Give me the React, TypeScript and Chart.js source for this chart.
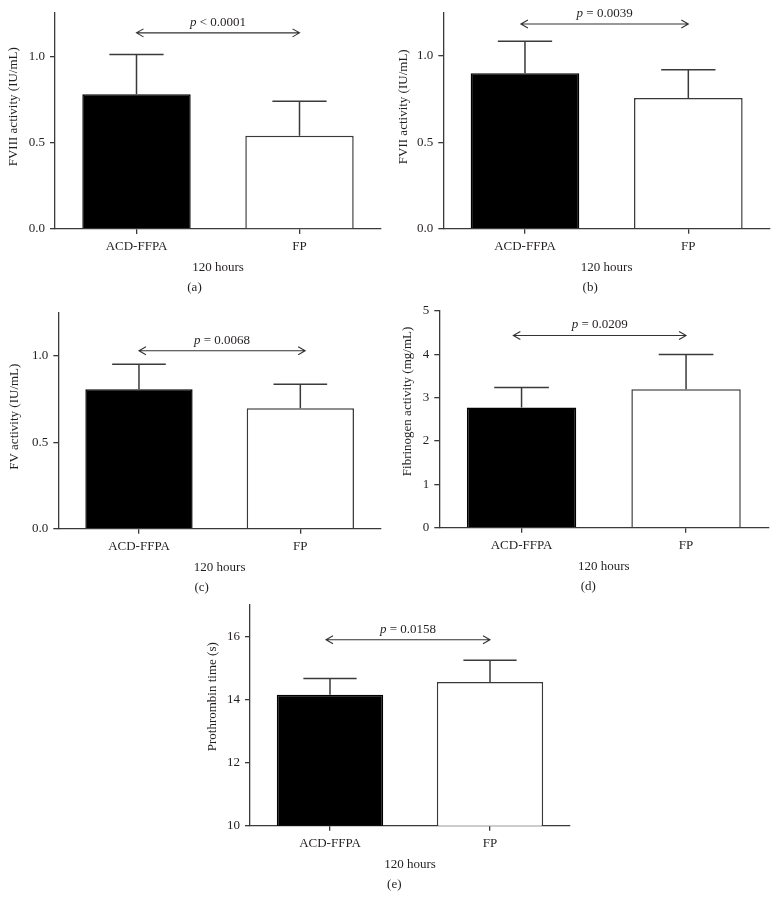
import React, { useEffect, useRef } from "react";
import { Chart, registerables } from "chart.js";

Chart.register(...registerables);

const FONT = "'Liberation Serif', 'Times New Roman', serif";
const TEXT = "#231f20";
const LINE = "#3a3a3a";

// ---- data ----
const categories = ["ACD-FFPA", "FP"];
const xAxisTitle = "120 hours";

const fviiiMean = [0.78, 0.54];
const fviiiErr = [0.23, 0.2];
const fviiMean = [0.9, 0.757];
const fviiErr = [0.186, 0.163];
const fvMean = [0.807, 0.697];
const fvErr = [0.145, 0.139];
const fibMean = [2.77, 3.19];
const fibErr = [0.46, 0.8];
const ptMean = [14.15, 14.56];
const ptErr = [0.52, 0.69];

const yTitles = [
  "FVIII activity (IU/mL)",
  "FVII activity (IU/mL)",
  "FV activity (IU/mL)",
  "Fibrinogen activity (mg/mL)",
  "Prothrombin time (s)",
];
const panelLetters = ["(a)", "(b)", "(c)", "(d)", "(e)"];
const pLabels = ["< 0.0001", "= 0.0039", "= 0.0068", "= 0.0209", "= 0.0158"];
const pBracketY = [1.135, 1.185, 1.03, 4.43, 15.9];
const pBracketFrom = [0, -0.025, 0, -0.05, -0.025];
const pBracketTo = [1, 1, 1.03, 1, 1];
const yMin = [0, 0, 0, 0, 10];
const yMax = [1.25, 1.25, 1.25, 5, 17];
const yStep = [0.5, 0.5, 0.5, 1, 2];
const yDecimals = [1, 1, 1, 0, 0];

const means = [fviiiMean, fviiMean, fvMean, fibMean, ptMean];
const errs = [fviiiErr, fviiErr, fvErr, fibErr, ptErr];

// ---- layout (canvas box, chart-area box relative to canvas, title offsets) ----
type Layout = {
  left: number; top: number; w: number; h: number;
  L: number; T: number; R: number; B: number;
  tdx: number; tdy: number; letterDx: number;
};
const layouts: Layout[] = [
  { left: 0, top: 0, w: 390, h: 298, L: 55, T: 13, R: 381, B: 229, tdx: -41.7, tdy: -14.3, letterDx: -23.5 },
  { left: 390, top: 0, w: 389, h: 298, L: 53.3, T: 11.7, R: 380, B: 228.7, tdx: -40, tdy: -14, letterDx: -16.5 },
  { left: 0, top: 298, w: 390, h: 300, L: 58.3, T: 14.7, R: 381, B: 230.7, tdx: -43.3, tdy: -4, letterDx: -18 },
  { left: 390, top: 298, w: 389, h: 300, L: 49.3, T: 11.3, R: 378.3, B: 229.7, tdx: -31.8, tdy: -17.8, letterDx: -15.5 },
  { left: 180, top: 592, w: 420, h: 320, L: 70, T: 13, R: 390, B: 233.7, tdx: -37.5, tdy: -18.6, letterDx: -15.7 },
];

const XH = 30;

const annotPlugin = {
  id: "annot",
  afterDatasetsDraw(chart: any, _args: any, opts: any) {
    const { ctx, chartArea } = chart;
    const xs = chart.scales.x;
    const ys = chart.scales.y;
    const meta = chart.getDatasetMeta(0);
    ctx.save();
    // error bars
    ctx.strokeStyle = LINE;
    ctx.lineWidth = 1.5;
    meta.data.forEach((bar: any, i: number) => {
      const base = ys.getPixelForValue(opts.mean[i]);
      const top = ys.getPixelForValue(opts.mean[i] + opts.err[i]);
      const half = bar.width / 4;
      ctx.beginPath();
      ctx.moveTo(bar.x, base);
      ctx.lineTo(bar.x, top);
      ctx.moveTo(bar.x - half, top);
      ctx.lineTo(bar.x + half, top);
      ctx.stroke();
    });
    // bracket arrow
    const x1 = xs.getPixelForValue(opts.from);
    const x2 = xs.getPixelForValue(opts.to);
    const ay = ys.getPixelForValue(opts.bracketY);
    ctx.strokeStyle = "#333";
    ctx.lineWidth = 1.1;
    ctx.beginPath();
    ctx.moveTo(x1, ay);
    ctx.lineTo(x2, ay);
    ctx.moveTo(x1 + 7, ay - 4);
    ctx.lineTo(x1, ay);
    ctx.lineTo(x1 + 7, ay + 4);
    ctx.moveTo(x2 - 7, ay - 4);
    ctx.lineTo(x2, ay);
    ctx.lineTo(x2 - 7, ay + 4);
    ctx.stroke();
    // p text
    ctx.fillStyle = TEXT;
    ctx.textBaseline = "middle";
    ctx.textAlign = "left";
    const italic = `italic 13px ${FONT}`;
    const regular = `13px ${FONT}`;
    ctx.font = italic;
    const wp = ctx.measureText("p").width;
    ctx.font = regular;
    const rest = " " + opts.pText;
    const wr = ctx.measureText(rest).width;
    const cx = (x1 + x2) / 2;
    const ty = ay - 10.5;
    let sx = cx - (wp + wr) / 2;
    ctx.font = italic;
    ctx.fillText("p", sx, ty);
    ctx.font = regular;
    ctx.fillText(rest, sx + wp, ty);
    // x title and panel letter
    const mid = (chartArea.left + chartArea.right) / 2;
    ctx.textAlign = "center";
    ctx.fillText(opts.xTitle, mid, chartArea.bottom + 38.5);
    ctx.fillText(opts.letter, mid + opts.letterDx, chartArea.bottom + 58.5);
    // y title
    ctx.save();
    ctx.translate(chartArea.left + opts.tdx, (chartArea.top + chartArea.bottom) / 2 + opts.tdy);
    ctx.rotate(-Math.PI / 2);
    ctx.fillText(opts.yTitle, 0, 0);
    ctx.restore();
    ctx.restore();
  },
};

function Panel({ idx }: { idx: number }) {
  const ref = useRef<HTMLCanvasElement | null>(null);
  const lay = layouts[idx];
  useEffect(() => {
    if (!ref.current) return;
    const axisGrid = {
      drawOnChartArea: false,
      drawTicks: true,
      tickLength: 5,
      color: LINE,
      lineWidth: 1.3,
    };
    const chart = new Chart(ref.current, {
      type: "bar",
      data: {
        labels: categories,
        datasets: [
          {
            data: means[idx],
            backgroundColor: ["#000000", "#ffffff"],
            borderColor: ["#000000", LINE],
            borderWidth: 1.5,
            categoryPercentage: 1,
            barPercentage: 0.665,
          },
        ],
      },
      plugins: [annotPlugin as any],
      options: {
        responsive: false,
        maintainAspectRatio: false,
        animation: false,
        layout: {
          padding: {
            left: 0,
            top: lay.T,
            right: lay.w - lay.R,
            bottom: lay.h - lay.B - XH,
          },
        },
        plugins: {
          legend: { display: false },
          tooltip: { enabled: false },
          annot: {
            mean: means[idx],
            err: errs[idx],
            from: pBracketFrom[idx],
            to: pBracketTo[idx],
            bracketY: pBracketY[idx],
            pText: pLabels[idx],
            xTitle: xAxisTitle,
            letter: panelLetters[idx],
            letterDx: lay.letterDx,
            yTitle: yTitles[idx],
            tdx: lay.tdx,
            tdy: lay.tdy,
          },
        } as any,
        scales: {
          x: {
            grid: { ...axisGrid, offset: false },
            border: { display: true, color: LINE, width: 1.3 },
            ticks: { padding: 5, color: TEXT, font: { family: FONT, size: 13 } },
            afterFit: (s: any) => {
              s.height = XH;
            },
          },
          y: {
            min: yMin[idx],
            max: yMax[idx],
            grid: axisGrid,
            border: { display: true, color: LINE, width: 1.3 },
            ticks: {
              stepSize: yStep[idx],
              includeBounds: false,
              padding: 5,
              color: TEXT,
              font: { family: FONT, size: 13 },
              callback: (v: any) => Number(v).toFixed(yDecimals[idx]),
            },
            afterFit: (s: any) => {
              s.width = lay.L;
            },
          },
        },
      } as any,
    });
    return () => chart.destroy();
  }, [idx]);
  return (
    <canvas
      ref={ref}
      width={lay.w}
      height={lay.h}
      style={{ position: "absolute", left: lay.left, top: lay.top, width: lay.w, height: lay.h }}
    />
  );
}

export default function App() {
  return (
    <div
      style={{
        position: "absolute",
        left: 0,
        top: 0,
        width: 779,
        height: 912,
        background: "#ffffff",
        overflow: "hidden",
      }}
    >
      {[0, 1, 2, 3, 4].map((i) => (
        <Panel key={i} idx={i} />
      ))}
    </div>
  );
}
